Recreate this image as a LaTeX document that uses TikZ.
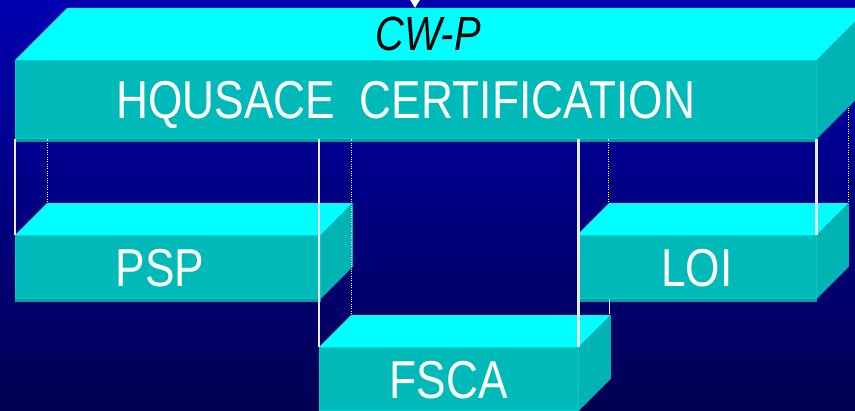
\documentclass[tikz,border=0pt]{standalone}
\usepackage{fontspec}
\newfontfamily\boxfont[FakeStretch=0.83]{Liberation Sans}
\usepackage{tikz}
\usetikzlibrary{arrows.meta,calc}

\definecolor{bgtop}{RGB}{0,0,176}
\definecolor{bgbot}{RGB}{0,0,82}
\definecolor{topcyan}{RGB}{0,255,255}
\definecolor{frontteal}{RGB}{0,186,186}
\definecolor{sideteal}{RGB}{0,180,180}
\definecolor{edgeteal}{RGB}{0,204,204}
\definecolor{rimteal}{RGB}{0,160,160}
\definecolor{wirewhite}{RGB}{235,235,245}

\begin{document}
\begin{tikzpicture}[x=0.75pt,y=0.75pt,yscale=-1,xscale=1,
  face/.style={fill=frontteal, draw=edgeteal, line width=0.6pt, inner sep=0pt, anchor=north west,
    text=white, text height=29pt, text depth=0pt, font=\boxfont\fontsize{40}{40}\selectfont},
  wire/.style={draw=wirewhite, line width=2.2pt},
  dotwire/.style={draw=white, line width=0.75pt, densely dotted}]

\useasboundingbox (0,0) rectangle (855,410);
\clip (0,0) rectangle (855,410);

%background
\shade[top color=bgtop, bottom color=bgbot] (0,0) rectangle (855,410);

%front faces
\node[face, minimum width=600.75pt, minimum height=58.5pt] (hq) at (15,60) {HQUSACE~ CERTIFICATION\kern15pt\null};
\node[face, minimum width=228.75pt, minimum height=47.25pt] (psp) at (15,235) {PSP\kern12pt\null};
\node[face, minimum width=179.25pt, minimum height=47.25pt] (loi) at (577,235) {LOI};
\node[face, minimum width=194.25pt, minimum height=47.25pt] (fsca) at (319,347) {FSCA};

%back corners
\coordinate (hq-br) at ($(hq.south east)+(52,-52)$);
\coordinate (psp-bl) at ($(psp.north west)+(32,-33)$);
\coordinate (loi-bl) at ($(loi.north west)+(31,-33)$);
\coordinate (loi-br) at ($(loi.north east)+(32,-33)$);
\coordinate (fsca-bl) at ($(fsca.north west)+(32,-33)$);
\coordinate (fsca-br) at ($(fsca.north east)+(31,-33)$);

%hidden wire behind the top block
\draw[dotwire] (loi-br) -- (loi-br |- hq-br);

%top and side faces
\foreach \n/\d in {hq/52,psp/32,loi/32,fsca/32}{
  \fill[topcyan] (\n.north west) -- ++(\d,-\d) -- ($(\n.north east)+(\d,-\d)$) -- (\n.north east) -- cycle;
  \fill[sideteal] (\n.north east) -- ++(\d,-\d) -- ($(\n.south east)+(\d,-\d)$) -- (\n.south east) -- cycle;
  \draw[rimteal, line width=2.25pt] ([yshift=1.2pt]\n.south west) -- ([yshift=1.2pt]\n.south east);
}

% Text Node
\node[text=black, inner sep=0pt, font=\boxfont\itshape\fontsize{36}{36}\selectfont] (cwp) at (428,34) {CW-P};

%feed arrow
\coordinate (feed) at (415,-30);
\coordinate (hq-top) at (415,8);
\draw[wire, draw=white, line width=1.5pt, -{Triangle[width=8pt,length=7pt]}] (feed) -- (hq-top);

%hanging wires
\draw[wire] (psp.north west) -- (psp.north west |- hq.south);
\draw[dotwire] (psp-bl) -- (psp-bl |- hq.south);
\draw[wire] (fsca.north west) -- (fsca.north west |- hq.south);
\draw[dotwire] (fsca-bl) -- (fsca-bl |- hq.south);
\draw[wire] (fsca.north east) -- (fsca.north east |- hq.south);
\draw[dotwire] (loi-bl) -- (loi-bl |- hq.south);
\draw[wire, line width=0.9pt] (fsca-br) -- (fsca-br |- loi.south);
\draw[wire] (loi.north east) -- (loi.north east |- hq.south);

\end{tikzpicture}
\end{document}
